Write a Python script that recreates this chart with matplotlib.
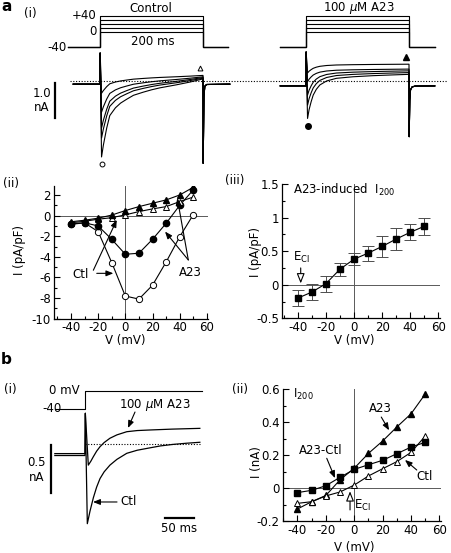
import matplotlib
matplotlib.use('Agg')
import matplotlib.pyplot as plt
from matplotlib.ticker import MultipleLocator, FuncFormatter

plt.rcParams['font.family'] = ['DejaVu Sans']
plt.rcParams['font.size'] = 8.5
plt.rcParams['axes.unicode_minus'] = False

W, H = 452, 553

# ---- a(i): voltage protocol and current traces (nA vs ms) ----
step_mv = [0, 10, 20, 30, 40]
ctl_base, ctl_spike = -0.09, 0.8
ctl_peak = [-2.17, -1.63, -1.34, -0.89, -0.35]
ctl_end = [0.06, 0.08, 0.10, 0.12, 0.16]
ctl_shape_t = [3, 6.5, 13, 19, 30, 40, 52, 65, 84, 100, 116, 149, 175, 200]
ctl_shape = [1, 0.85, 0.63, 0.47, 0.37, 0.31, 0.26, 0.21, 0.17, 0.14, 0.115, 0.075, 0.04, 0]
ctl_off_t = [200.4, 201.8, 203.5, 207, 252]
ctl_off_i = [-2.35, -0.45, -0.15, -0.1, -0.09]

a23_base, a23_spike = -0.14, 0.83
a23_peak = [-1.07, -0.69, -0.40, -0.02, 0.23]
a23_end = [0.19, 0.24, 0.29, 0.34, 0.48]
a23_shape_t = [3, 6, 10, 14, 20, 27, 40, 59, 91, 130, 170, 200]
a23_shape = [1, 0.8, 0.62, 0.47, 0.34, 0.24, 0.15, 0.09, 0.055, 0.03, 0.012, 0]
a23_off_t = [200.4, 201.5, 203, 206, 212, 250]
a23_off_i = [-1.59, -0.55, -0.25, -0.17, -0.145, -0.14]
a23_shift = 400  # ms offset of the A23 family on the shared time axis

# ---- a(ii): peak and end currents (pA/pF) ----
iv_v = [-40, -30, -20, -10, 0, 10, 20, 30, 40, 50]
ctl_peak_iv = [-0.8, -0.7, -1.55, -4.55, -7.8, -8.1, -6.75, -4.5, -2.05, 0.1]
a23_peak_iv = [-0.85, -0.7, -1.0, -2.3, -3.75, -3.65, -2.3, -0.75, 1.0, 2.5]
a23_end_iv = [-0.6, -0.45, -0.25, 0.05, 0.49, 0.87, 1.2, 1.52, 2.0, 2.75]
ctl_end_iv = [-0.7, -0.55, -0.35, -0.2, 0.07, 0.39, 0.65, 0.87, 1.36, 1.8]

# ---- a(iii): A23-induced I200 (mean +- sem) ----
ind_iv = [-0.2, -0.11, 0.015, 0.23, 0.38, 0.47, 0.57, 0.68, 0.78, 0.87]
ind_err = [0.12, 0.12, 0.12, 0.10, 0.09, 0.11, 0.15, 0.16, 0.12, 0.125]

# ---- b(i): single step to 0 mV ----
b_ctl_t = [-52, 0, 0.6, 4, 8.6, 14.4, 20, 25.9, 33, 43, 55, 72, 90, 112, 130, 152, 175, 198]
b_ctl_i = [-0.10, -0.10, 0.32, -0.83, -0.70, -0.56, -0.45, -0.36, -0.29, -0.22, -0.16,
           -0.097, -0.065, -0.04, -0.02, -0.004, 0.008, 0.018]
b_a23_t = [-52, 0, 0.6, 5.7, 10, 14.4, 20, 25.9, 33, 43, 55, 72, 90, 112, 150, 198]
b_a23_i = [-0.12, -0.12, 0.32, -0.22, -0.18, -0.132, -0.075, -0.028, 0.015, 0.06,
           0.095, 0.128, 0.14, 0.146, 0.155, 0.163]

# ---- b(ii): I200 (nA) ----
b_a23_iv = [-0.127, -0.083, -0.045, 0.05, 0.12, 0.21, 0.285, 0.37, 0.45, 0.57]
b_diff_iv = [-0.028, -0.014, 0.014, 0.065, 0.113, 0.141, 0.168, 0.208, 0.248, 0.277]
b_ctl_iv = [-0.093, -0.083, -0.048, -0.024, 0.018, 0.073, 0.117, 0.16, 0.216, 0.315]

fig = plt.figure(figsize=(W / 100, H / 100), dpi=100)


def px_axes(left, top, right, bottom):
    ax = fig.add_axes([left / W, 1 - bottom / H, (right - left) / W, (bottom - top) / H])
    ax.patch.set_alpha(0)
    return ax


def trace_axes(left, top, right, bottom, x0, sx, y0, sy):
    # px = x0 + sx * x ; py = y0 - sy * y
    ax = px_axes(left, top, right, bottom)
    ax.set_xlim((left - x0) / sx, (right - x0) / sx)
    ax.set_ylim((y0 - bottom) / sy, (y0 - top) / sy)
    ax.axis('off')
    return ax


def fig_text(x, y, s, **kw):
    fig.text(x / W, 1 - y / H, s, **kw)


def fmt(v, pos):
    return '%g' % round(v, 3)


def iv_axes(box, xlim, ylim, ymaj, ymin_):
    ax = px_axes(*box)
    ax.set_xlim(xlim)
    ax.set_ylim(ylim)
    for s in ['top', 'right']:
        ax.spines[s].set_visible(False)
    for s in ['left', 'bottom']:
        ax.spines[s].set_linewidth(0.9)
    ax.xaxis.set_major_locator(MultipleLocator(20))
    ax.xaxis.set_minor_locator(MultipleLocator(10))
    ax.yaxis.set_major_locator(MultipleLocator(ymaj))
    ax.yaxis.set_minor_locator(MultipleLocator(ymin_))
    ax.xaxis.set_major_formatter(FuncFormatter(fmt))
    ax.yaxis.set_major_formatter(FuncFormatter(fmt))
    ax.tick_params(which='major', direction='in', length=4, width=0.8, labelsize=8.5, pad=2.5)
    ax.tick_params(axis='x', which='major', pad=2)
    ax.tick_params(which='minor', direction='in', length=2.5, width=0.8)
    ax.axhline(0, color='0.35', lw=0.7, zorder=0)
    ax.axvline(0, color='0.35', lw=0.7, zorder=0)
    return ax


def arrow(ax, tail, head, hollow=False):
    if hollow:
        props = dict(arrowstyle='-|>,head_length=0.7,head_width=0.28', fc='white', ec='k',
                     lw=0.8, shrinkA=0, shrinkB=0)
    else:
        props = dict(arrowstyle='-|>,head_length=0.5,head_width=0.2', fc='k', ec='k',
                     lw=0.8, shrinkA=0, shrinkB=0)
    ax.annotate('', xy=head, xytext=tail, arrowprops=props)


def build(base, spike, peak, end, shape_t, shape, off_t, off_i, t0, shift=0):
    t = [t0, 0, 0.3] + shape_t + off_t
    i = [base, base, spike] + [end + (peak - end) * f for f in shape] + off_i
    return [x + shift for x in t], i


# ================= a(i) =================
av = trace_axes(40, 0, 452, 50, 100, 0.515, 31.5, 0.39)
for v in step_mv:
    av.plot([-62, 0, 0, 200, 200, 248.5], [-40, -40, v, v, -40, -40], color='k', lw=0.8)
    av.plot([a23_shift + x for x in [-50.5, 0, 0, 200, 200, 250.5]],
            [-40, -40, v, v, -40, -40], color='k', lw=0.8)
av.text(-6, max(step_mv), '+40', ha='right', va='center')
av.text(-6, min(step_mv), '0', ha='right', va='center')
av.text(-64, -40, '-40', ha='right', va='center')
av.text(98, 59.5, 'Control', ha='center', va='center')
av.text(102, -26.2, '200 ms', ha='center', va='center')
av.text(a23_shift + 103, 59.5, '100 $\\mu$M A23', ha='center', va='center')

ai = trace_axes(40, 50, 452, 172, 100, 0.515, 81, 35)
ai.plot([-58, 674], [0, 0], color='k', lw=0.8, ls=(0, (1, 1.5)))
for k in range(len(step_mv)):
    t, i = build(ctl_base, ctl_spike, ctl_peak[k], ctl_end[k], ctl_shape_t, ctl_shape,
                 ctl_off_t, ctl_off_i, -52)
    ai.plot(t, i, color='k', lw=0.8)
    t, i = build(a23_base, a23_spike, a23_peak[k], a23_end[k], a23_shape_t, a23_shape,
                 a23_off_t, a23_off_i, -50, a23_shift)
    ai.plot(t, i, color='k', lw=0.8)
ai.plot([3.3], [min(ctl_peak) - 0.2], 'o', ms=3.5, mfc='white', mec='k', mew=0.7)
ai.plot([194], [max(ctl_end) + 0.2], '^', ms=3.5, mfc='white', mec='k', mew=0.7)
ai.plot([a23_shift + 3.3], [min(a23_peak) - 0.22], 'o', ms=4, color='k')
ai.plot([a23_shift + 194], [max(a23_end) + 0.21], '^', ms=4, color='k')
ai.plot([-87.4, -87.4], [-0.05, -1.05], color='k', lw=1.6)
ai.text(-113.6, -0.37, '1.0', ha='center', va='center')
ai.text(-113.6, -0.77, 'nA', ha='center', va='center')

# ================= a(ii) =================
a2 = iv_axes((54.3, 185.7, 208.3, 318.7), (-52.2, 61), (-10, 2.9), 2, 1)
a2.plot(iv_v, ctl_peak_iv, '-o', color='k', lw=0.8, ms=4.5, mfc='white', mew=0.7)
a2.plot(iv_v, a23_peak_iv, '-o', color='k', lw=0.8, ms=4.5)
a2.plot(iv_v, ctl_end_iv, '-^', color='k', lw=0.8, ms=4.5, mfc='white', mew=0.7)
a2.plot(iv_v, a23_end_iv, '-^', color='k', lw=0.8, ms=4.5)
a2.text(-32.6, -5.7, 'Ctl', ha='center', va='center')
arrow(a2, (-23.5, -5.3), (-6.3, -0.42))
arrow(a2, (-21, -5.6), (-8.8, -5.6))
a2.text(47.7, -5.5, 'A23', ha='center', va='center')
arrow(a2, (46.3, -4.3), (29.2, -1.55))
arrow(a2, (46.3, -4.3), (38.2, 1.69))
a2.text(-0.225, 0.52, 'I (pA/pF)', rotation=90, ha='center', va='center', transform=a2.transAxes)
a2.text(0.459, -0.165, 'V (mV)', ha='center', va='center', transform=a2.transAxes)

# ================= a(iii) =================
a3 = iv_axes((282.3, 184, 439.7, 318.3), (-51, 61), (-0.5, 1.5), 0.5, 0.25)
a3.errorbar(iv_v, ind_iv, yerr=ind_err, fmt='none', ecolor='0.3', elinewidth=0.7,
            capsize=4.5, capthick=0.7)
a3.plot(iv_v, ind_iv, '-s', color='k', lw=0.8, ms=5)
a3.text(-43.4, 1.41, 'A23-induced  I$_{200}$', ha='left', va='center')
a3.text(-43.4, 0.41, 'E$_{\\rm Cl}$', ha='left', va='center')
arrow(a3, (-37.9, 0.25), (-37.9, 0.02), hollow=True)
a3.text(-0.172, 0.494, 'I (pA/pF)', rotation=90, ha='center', va='center', transform=a3.transAxes)
a3.text(0.455, -0.167, 'V (mV)', ha='center', va='center', transform=a3.transAxes)

# ================= b(i) =================
bv = trace_axes(20, 380, 230, 412, 85, 0.58, 391, 0.45)
bv.plot([-52, 0, 0, 201.7], [-40, -40, 0, 0], color='k', lw=0.8)
bv.text(-8.6, 0, '0 mV', ha='right', va='center')
bv.text(-39.7, -40, '-40', ha='right', va='center')

bi = trace_axes(20, 405, 230, 540, 85, 0.58, 444, 96)
bi.plot([0, 198], [0, 0], color='k', lw=0.8, ls=(0, (1, 1.5)))
bi.plot(b_ctl_t, b_ctl_i, color='k', lw=0.9)
bi.plot(b_a23_t, b_a23_i, color='k', lw=0.9)
bi.plot([-59, -59], [-0.01, -0.51], color='k', lw=1.6)
bi.plot([138, 188], [-0.77, -0.77], color='k', lw=1.6)
bi.text(163, -0.875, '50 ms', ha='center', va='center')
bi.text(-82.8, -0.19, '0.5', ha='center', va='center')
bi.text(-82.8, -0.354, 'nA', ha='center', va='center')
bi.text(120.7, 0.406, '100 $\\mu$M A23', ha='center', va='center')
arrow(bi, (86.2, 0.333), (74.1, 0.167))
bi.text(60.3, -0.604, 'Ctl', ha='left', va='center')
arrow(bi, (55.2, -0.604), (13.8, -0.604))

# ================= b(ii) =================
b2 = iv_axes((283.3, 389, 440.9, 521), (-50, 61), (-0.2, 0.6), 0.2, 0.1)
b2.plot(iv_v, b_a23_iv, '-^', color='k', lw=0.8, ms=4.5)
b2.plot(iv_v, b_ctl_iv, '-^', color='k', lw=0.8, ms=4.5, mfc='white', mew=0.7)
b2.plot(iv_v, b_diff_iv, '-s', color='k', lw=0.8, ms=5)
b2.text(-43.2, 0.564, 'I$_{200}$', ha='left', va='center')
b2.text(18.5, 0.48, 'A23', ha='center', va='center')
arrow(b2, (19, 0.43), (24.5, 0.35))
b2.text(-23.4, 0.23, 'A23-Ctl', ha='center', va='center')
arrow(b2, (-19.4, 0.18), (-13.6, 0.06))
b2.text(49.8, 0.068, 'Ctl', ha='center', va='center')
arrow(b2, (44, 0.109), (35.7, 0.17))
arrow(b2, (-3, -0.133), (-3, -0.02), hollow=True)
b2.text(0, -0.105, 'E$_{\\rm Cl}$', ha='left', va='center')
b2.text(-0.17, 0.447, 'I (nA)', rotation=90, ha='center', va='center', transform=b2.transAxes)
b2.text(0.45, -0.2, 'V (mV)', ha='center', va='center', transform=b2.transAxes)

# panel labels
fig_text(1, 6.5, 'a', fontsize=11, fontweight='bold', ha='left', va='center')
fig_text(30, 13, '(i)', ha='center', va='center')
fig_text(11, 183, '(ii)', ha='center', va='center')
fig_text(235, 181, '(iii)', ha='center', va='center')
fig_text(1, 360, 'b', fontsize=11, fontweight='bold', ha='left', va='center')
fig_text(10, 390, '(i)', ha='center', va='center')
fig_text(240, 390, '(ii)', ha='center', va='center')

fig.savefig('out.png', dpi=100)
